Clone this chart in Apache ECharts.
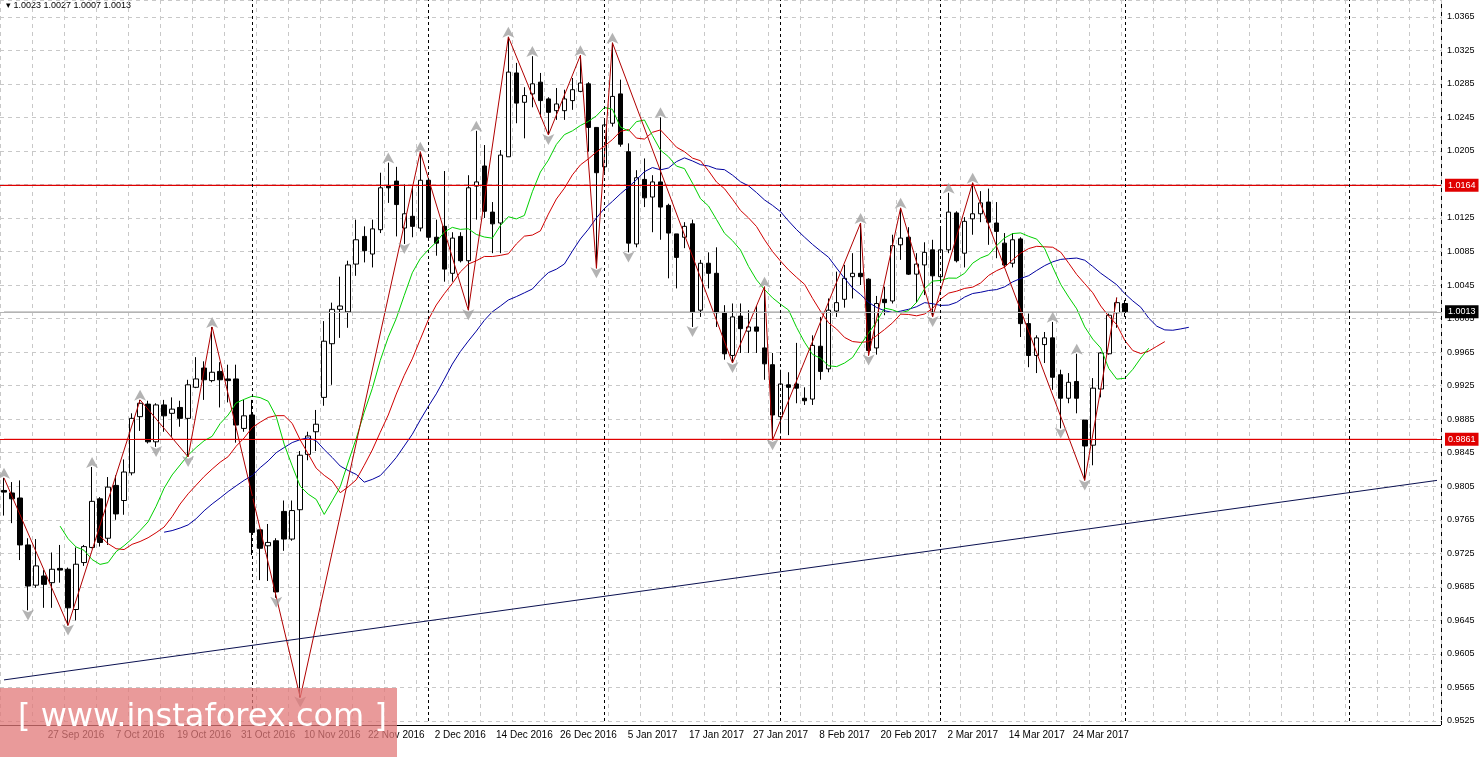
<!DOCTYPE html>
<html>
<head>
<meta charset="utf-8">
<script src="https://cdn.jsdelivr.net/npm/echarts@6/dist/echarts.min.js"></script>
<style>
html, body { margin: 0; padding: 0; background: #fff; }
#chart { width: 1484px; height: 757px; }
</style>
</head>
<body>
<div id="chart"></div>
<script>
// daily bars
var opens = [0.9800,0.9797,0.9791,0.9735,0.9687,0.9698,0.9690,0.9707,0.9706,0.9658,0.9714,0.9732,0.9790,0.9743,0.9806,0.9788,0.9821,0.9888,0.9903,0.9858,
 0.9902,0.9892,0.9899,0.9886,0.9923,0.9946,0.9931,0.9942,0.9933,0.9933,0.9874,0.9890,0.9753,0.9734,0.9740,0.9775,0.9742,0.9777,0.9843,0.9870,
 0.9911,0.9975,1.0016,1.0013,1.0070,1.0103,1.0082,1.0111,1.0163,1.0169,1.0113,1.0127,1.0113,1.0170,1.0102,1.0115,1.0059,1.0103,1.0074,1.0163,
 1.0187,1.0132,1.0119,1.0198,1.0298,1.0263,1.0273,1.0287,1.0267,1.0253,1.0253,1.0265,1.0276,1.0285,1.0233,1.0186,1.0238,1.0273,1.0204,1.0094,
 1.0171,1.0150,1.0168,1.0140,1.0106,1.0102,1.0118,1.0015,1.0071,1.0059,1.0012,0.9961,1.0008,0.9990,0.9995,0.9970,0.9950,0.9888,0.9926,0.9927,
 0.9910,0.9909,0.9972,0.9945,1.0014,1.0028,1.0055,1.0059,1.0052,0.9970,1.0028,1.0026,1.0093,1.0102,1.0058,1.0069,1.0087,1.0055,1.0087,1.0131,
 1.0083,1.0124,1.0130,1.0144,1.0119,1.0095,1.0071,1.0100,0.9999,0.9961,0.9974,0.9982,0.9938,0.9910,0.9930,0.9884,0.9854,0.9921,0.9963,1.0012,1.0023];
var highs = [0.9815,0.9810,0.9812,0.9743,0.9742,0.9705,0.9726,0.9735,0.9708,0.9732,0.9735,0.9828,0.9792,0.9816,0.9818,0.9837,0.9892,0.9908,0.9907,0.9904,
 0.9908,0.9911,0.9907,0.9932,0.9959,0.9954,0.9995,0.9953,0.9950,0.9950,0.9908,0.9908,0.9753,0.9760,0.9743,0.9788,0.9788,0.9847,0.9870,0.9896,
 1.0002,1.0024,1.0055,1.0074,1.0123,1.0115,1.0123,1.0179,1.0191,1.0186,1.0165,1.0163,1.0204,1.0172,1.0123,1.0181,1.0108,1.0108,1.0176,1.0229,
 1.0212,1.0144,1.0206,1.0341,1.0310,1.0281,1.0318,1.0298,1.0269,1.0280,1.0278,1.0292,1.0319,1.0287,1.0233,1.0241,1.0334,1.0290,1.0214,1.0182,
 1.0196,1.0176,1.0245,1.0142,1.0106,1.0120,1.0123,1.0075,1.0084,1.0090,1.0021,1.0023,1.0023,1.0015,1.0020,1.0043,0.9964,0.9944,0.9941,0.9976,
 0.9923,0.9985,1.0007,1.0029,1.0061,1.0069,1.0083,1.0119,1.0053,1.0032,1.0043,1.0105,1.0137,1.0114,1.0083,1.0096,1.0099,1.0114,1.0155,1.0133,
 1.0126,1.0167,1.0157,1.0160,1.0144,1.0107,1.0107,1.0102,1.0011,0.9985,0.9989,1.0001,0.9944,0.9940,0.9963,0.9884,0.9934,0.9965,1.0011,1.0030,1.0027];
var lows = [0.9770,0.9761,0.9717,0.9657,0.9684,0.9660,0.9660,0.9690,0.9639,0.9645,0.9710,0.9731,0.9733,0.9735,0.9765,0.9771,0.9818,0.9871,0.9856,0.9852,
 0.9870,0.9864,0.9876,0.9840,0.9922,0.9908,0.9929,0.9899,0.9905,0.9857,0.9870,0.9723,0.9693,0.9692,0.9672,0.9728,0.9740,0.9553,0.9836,0.9847,
 0.9901,0.9926,0.9982,0.9994,1.0056,1.0072,1.0066,1.0107,1.0143,1.0103,1.0094,1.0102,1.0109,1.0100,1.0080,1.0049,1.0049,1.0072,1.0015,1.0123,
 1.0125,1.0083,1.0083,1.0198,1.0238,1.0220,1.0257,1.0245,1.0224,1.0242,1.0242,1.0254,1.0275,1.0204,1.0065,1.0180,1.0234,1.0210,1.0084,1.0090,
 1.0138,1.0108,1.0099,1.0053,1.0041,1.0089,0.9995,1.0007,1.0041,0.9995,0.9956,0.9952,0.9964,0.9964,0.9964,0.9932,0.9860,0.9868,0.9866,0.9904,
 0.9902,0.9902,0.9932,0.9941,1.0007,1.0018,1.0029,1.0045,0.9961,0.9962,1.0009,1.0023,1.0075,1.0057,1.0024,1.0033,1.0007,1.0051,1.0083,1.0072,
 1.0066,1.0105,1.0120,1.0093,1.0077,1.0066,1.0066,0.9983,0.9947,0.9940,0.9952,0.9920,0.9874,0.9904,0.9892,0.9812,0.9830,0.9911,0.9962,0.9994,1.0007];
var closes = [0.9798,0.9790,0.9735,0.9686,0.9710,0.9688,0.9706,0.9705,0.9660,0.9712,0.9733,0.9787,0.9738,0.9804,0.9772,0.9822,0.9886,0.9904,0.9858,0.9902,
 0.9889,0.9897,0.9886,0.9926,0.9933,0.9932,0.9941,0.9932,0.9931,0.9878,0.9889,0.9750,0.9731,0.9738,0.9679,0.9742,0.9776,0.9842,0.9865,0.9879,
 0.9978,1.0016,1.0020,1.0069,1.0099,1.0086,1.0112,1.0161,1.0161,1.0141,1.0130,1.0115,1.0170,1.0102,1.0095,1.0064,1.0101,1.0074,1.0161,1.0168,
 1.0133,1.0118,1.0200,1.0299,1.0262,1.0271,1.0285,1.0265,1.0251,1.0261,1.0267,1.0278,1.0286,1.0233,1.0179,1.0236,1.0270,1.0213,1.0095,1.0173,
 1.0149,1.0168,1.0138,1.0107,1.0078,1.0115,1.0013,1.0071,1.0059,1.0012,0.9963,1.0007,0.9993,0.9995,0.9990,0.9951,0.9890,0.9927,0.9923,0.9922,
 0.9907,0.9973,0.9942,1.0015,1.0024,1.0053,1.0059,1.0055,0.9967,1.0023,1.0024,1.0092,1.0101,1.0058,1.0070,1.0084,1.0056,1.0087,1.0132,1.0074,
 1.0121,1.0130,1.0143,1.0120,1.0109,1.0069,1.0099,0.9999,0.9961,0.9982,0.9982,0.9935,0.9910,0.9929,0.9910,0.9853,0.9922,0.9964,1.0009,1.0024,1.0013];

// zigzag turning bars, and fractal bars
var zigIdx = [0,8,17,23,26,37,52,58,63,68,72,74,76,91,95,96,107,108,112,116,121,135,139];
var fracUp = [0,11,17,26,48,52,59,63,66,72,76,82,95,107,112,118,121,131,134];
var fracDn = [3,8,19,23,34,37,50,58,68,74,78,86,91,96,108,116,132,135];

var tickIdx = [9,17,25,33,41,49,57,65,73,81,89,97,105,113,121,129,137];
var tickText = ['27 Sep 2016','7 Oct 2016','19 Oct 2016','31 Oct 2016','10 Nov 2016','22 Nov 2016','2 Dec 2016',
 '14 Dec 2016','26 Dec 2016','5 Jan 2017','17 Jan 2017','27 Jan 2017','8 Feb 2017','20 Feb 2017','2 Mar 2017','14 Mar 2017','24 Mar 2017'];

var levels = [1.0164, 0.9861];
var lastPrice = 1.0013;
var separators = [31,53,75,97,117,140,168];
var trendStart = [0, 0.9574], trendEnd = [179, 0.9812];

var slots = 180;
var cats = [];
for (var i = 0; i < slots; i++) cats.push('');
tickIdx.forEach(function (k, j) { cats[k] = tickText[j]; });

var candles = opens.map(function (o, i) { return [o, closes[i], lows[i], highs[i]]; });

// Bill Williams alligator on median price
function alligator(period, shift) {
    var out = [], s = null;
    for (var i = 0; i < slots; i++) out.push('-');
    for (var i = 0; i < opens.length; i++) {
        var m = (highs[i] + lows[i]) / 2;
        s = s === null ? m : (s * (period - 1) + m) / period;
        if (i >= period - 1) out[i + shift] = +s.toFixed(5);
    }
    return out;
}

var zig = [];
for (var i = 0; i < slots; i++) zig.push('-');
zigIdx.forEach(function (k, j) { zig[k] = j % 2 === 0 ? highs[k] : lows[k]; });

var upPts = fracUp.map(function (k) { return [k, highs[k] + 0.0012]; });
var dnPts = fracDn.map(function (k) { return [k, lows[k] - 0.0012]; });

// horizontal level: a flat line across the plot plus a price box on the axis
function levelSeries(v, lineColor, boxColor) {
    return {
        type: 'line', data: [[0, v], [slots - 1, v]], symbol: 'none', z: 1, silent: true,
        color: lineColor,
        lineStyle: { color: lineColor, width: 1 },
        markLine: {
            symbol: 'none', silent: true, precision: 4,
            lineStyle: { color: lineColor, width: 1, type: 'solid' },
            label: { position: 'end', backgroundColor: boxColor, color: '#fff', fontSize: 9, padding: [2, 3], distance: 4,
                     formatter: v.toFixed(4) },
            data: [{ yAxis: v }]
        }
    };
}

var myChart = echarts.init(document.getElementById('chart'));
myChart.setOption({
    animation: false,
    backgroundColor: '#fff',
    textStyle: { fontFamily: 'Liberation Sans' },
    grid: { left: -3, right: 43, top: 0, bottom: 36 },
    xAxis: {
        type: 'category',
        data: cats,
        axisLine: { show: false },
        axisTick: { show: false },
        axisLabel: { interval: 0, fontSize: 10, color: '#000', margin: 9 },
        splitLine: { show: true, interval: 3, lineStyle: { color: '#c8c8c8', type: [4, 4] } }
    },
    yAxis: {
        type: 'value',
        position: 'right',
        min: 0.9525,
        max: 1.0385,
        interval: 0.004,
        axisLine: { show: false },
        axisTick: { show: false },
        axisLabel: { fontSize: 9, color: '#000', margin: 6, showMaxLabel: false,
                     formatter: function (v) { return v.toFixed(4); } },
        splitLine: { lineStyle: { color: '#c8c8c8', type: [4, 4] } }
    },
    series: [
        {
            type: 'candlestick',
            data: candles,
            barWidth: 5,
            itemStyle: { color: '#fff', color0: '#000', borderColor: '#000', borderColor0: '#000', borderWidth: 1 },
            z: 2
        },
        levelSeries(levels[0], '#e00000', '#e00000'),
        levelSeries(levels[1], '#e00000', '#e00000'),
        levelSeries(lastPrice, '#b4b4b4', '#000'),
        {
            type: 'line', data: [], z: 1,
            markLine: {
                symbol: 'none', silent: true, precision: 4,
                label: { show: false },
                lineStyle: { color: '#000', width: 1, type: [3, 3] },
                data: [[{ coord: trendStart, lineStyle: { color: '#0a1050', type: 'solid' } }, { coord: trendEnd }]]
                    .concat(separators.map(function (k) { return { xAxis: k }; }))
            }
        },
        { type: 'line', data: alligator(13, 8), symbol: 'none', lineStyle: { color: '#0000a0', width: 1 }, z: 3 },
        { type: 'line', data: alligator(8, 5), symbol: 'none', lineStyle: { color: '#d00000', width: 1 }, z: 3 },
        { type: 'line', data: alligator(5, 3), symbol: 'none', lineStyle: { color: '#00d000', width: 1 }, z: 3 },
        { type: 'line', data: zig, connectNulls: true, symbol: 'none', lineStyle: { color: '#b00000', width: 1 }, z: 4 },
        { type: 'scatter', data: upPts, symbol: 'arrow', symbolSize: [9, 11], itemStyle: { color: '#a0a0a0' }, z: 5 },
        { type: 'scatter', data: dnPts, symbol: 'arrow', symbolRotate: 180, symbolSize: [9, 11], itemStyle: { color: '#a0a0a0' }, z: 5 }
    ],
    graphic: [
        { type: 'line', shape: { x1: 1441.5, y1: 0, x2: 1441.5, y2: 725 }, style: { stroke: '#000', lineWidth: 1 } },
        { type: 'line', shape: { x1: 0, y1: 725.5, x2: 1441, y2: 725.5 }, style: { stroke: '#000', lineWidth: 1 } },
        { type: 'text', left: 6, top: 1, style: { text: '▾ 1.0023 1.0027 1.0007 1.0013', fontSize: 9, fill: '#000', fontFamily: 'Liberation Sans' } },
        { type: 'rect', shape: { x: 0, y: 688, width: 397, height: 69 }, style: { fill: 'rgba(225,120,120,0.75)' }, z: 100 },
        { type: 'text', left: 18, top: 702, z: 101,
          style: { text: '[ www.instaforex.com ]', fontSize: 32, fill: '#fff', fontFamily: 'DejaVu Sans' } }
    ]
});
</script>
</body>
</html>
